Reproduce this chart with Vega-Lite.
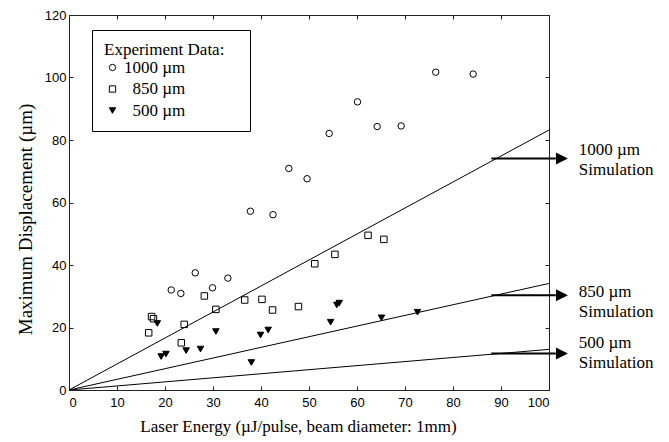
{
  "$schema": "https://vega.github.io/schema/vega-lite/v6.json",
  "width": 480,
  "height": 375,
  "autosize": {"type": "none"},
  "padding": {"left": 69, "top": 15, "right": 120, "bottom": 52},
  "background": "white",
  "config": {
    "view": {"stroke": null},
    "font": "Liberation Serif",
    "axis": {
      "grid": false,
      "domainColor": "#222",
      "domainWidth": 1,
      "tickColor": "#222",
      "tickWidth": 1,
      "labelFont": "Liberation Sans",
      "labelFontSize": 13,
      "labelColor": "black",
      "titleFont": "Liberation Serif",
      "titleFontWeight": "normal",
      "titleColor": "black"
    },
    "legend": {
      "orient": "none", "legendX": 23, "legendY": 15,
      "padding": 12, "strokeColor": "black", "fillColor": "white",
      "titleFont": "Liberation Serif", "titleFontSize": 17, "titleFontWeight": "normal", "titleColor": "black", "titlePadding": 0,
      "labelFont": "Liberation Serif", "labelFontSize": 17, "labelColor": "black",
      "rowPadding": 3.5, "symbolOffset": 0, "labelOffset": 3, "symbolSize": 40,
      "symbolStrokeWidth": 1
    }
  },
  "datasets": {
    "points": [
      {"series": "1000 µm", "energy": 21.3, "disp": 32.0},
      {"series": "1000 µm", "energy": 23.3, "disp": 30.9},
      {"series": "1000 µm", "energy": 26.3, "disp": 37.5},
      {"series": "1000 µm", "energy": 29.9, "disp": 32.7},
      {"series": "1000 µm", "energy": 33.1, "disp": 35.8},
      {"series": "1000 µm", "energy": 37.8, "disp": 57.2},
      {"series": "1000 µm", "energy": 42.5, "disp": 56.1},
      {"series": "1000 µm", "energy": 45.8, "disp": 70.9},
      {"series": "1000 µm", "energy": 49.6, "disp": 67.6},
      {"series": "1000 µm", "energy": 54.2, "disp": 82.1},
      {"series": "1000 µm", "energy": 60.1, "disp": 92.2},
      {"series": "1000 µm", "energy": 64.2, "disp": 84.3},
      {"series": "1000 µm", "energy": 69.2, "disp": 84.5},
      {"series": "1000 µm", "energy": 76.4, "disp": 101.7},
      {"series": "1000 µm", "energy": 84.2, "disp": 101.1},
      {"series": "850 µm", "energy": 17.2, "disp": 23.5},
      {"series": "850 µm", "energy": 17.6, "disp": 22.8},
      {"series": "850 µm", "energy": 16.6, "disp": 18.3},
      {"series": "850 µm", "energy": 23.4, "disp": 15.1},
      {"series": "850 µm", "energy": 24.0, "disp": 21.0},
      {"series": "850 µm", "energy": 28.2, "disp": 30.1},
      {"series": "850 µm", "energy": 30.6, "disp": 25.8},
      {"series": "850 µm", "energy": 36.6, "disp": 28.8},
      {"series": "850 µm", "energy": 40.2, "disp": 29.0},
      {"series": "850 µm", "energy": 42.4, "disp": 25.6},
      {"series": "850 µm", "energy": 47.8, "disp": 26.7},
      {"series": "850 µm", "energy": 51.2, "disp": 40.4},
      {"series": "850 µm", "energy": 55.4, "disp": 43.4},
      {"series": "850 µm", "energy": 62.3, "disp": 49.5},
      {"series": "850 µm", "energy": 65.6, "disp": 48.2},
      {"series": "500 µm", "energy": 18.4, "disp": 21.3},
      {"series": "500 µm", "energy": 19.2, "disp": 10.7},
      {"series": "500 µm", "energy": 20.2, "disp": 11.5},
      {"series": "500 µm", "energy": 24.4, "disp": 12.6},
      {"series": "500 µm", "energy": 27.4, "disp": 13.1},
      {"series": "500 µm", "energy": 30.6, "disp": 18.7},
      {"series": "500 µm", "energy": 38.0, "disp": 8.8},
      {"series": "500 µm", "energy": 39.9, "disp": 17.6},
      {"series": "500 µm", "energy": 41.5, "disp": 19.2},
      {"series": "500 µm", "energy": 54.5, "disp": 21.7},
      {"series": "500 µm", "energy": 55.8, "disp": 27.2},
      {"series": "500 µm", "energy": 56.3, "disp": 27.8},
      {"series": "500 µm", "energy": 65.1, "disp": 23.1},
      {"series": "500 µm", "energy": 72.6, "disp": 24.9}
    ],
    "sim": [
      {"sim": "1000 µm", "e0": 0, "d0": 0, "e1": 100, "d1": 83.2},
      {"sim": "850 µm", "e0": 0, "d0": 0, "e1": 100, "d1": 34.1},
      {"sim": "500 µm", "e0": 0, "d0": 0, "e1": 100, "d1": 13.0}
    ],
    "arrows": [
      {"sim": "1000 µm", "from": 88, "to": 101.4, "tip": 102.7, "level": 74.1, "labelX": 106.2, "labelY": 76.8, "label": "1000 µm|Simulation"},
      {"sim": "850 µm", "from": 88, "to": 101.4, "tip": 102.7, "level": 30.3, "labelX": 106.2, "labelY": 31.5, "label": "850 µm|Simulation"},
      {"sim": "500 µm", "from": 88, "to": 101.4, "tip": 102.7, "level": 11.7, "labelX": 106.2, "labelY": 15.1, "label": "500 µm|Simulation"}
    ]
  },
  "layer": [
    {
      "data": {"name": "sim"},
      "mark": {"type": "rule", "color": "black", "strokeWidth": 1},
      "encoding": {
        "x": {"field": "e0", "type": "quantitative", "scale": {"domain": [0, 100], "nice": false},
          "axis": {"orient": "top", "values": [0,10,20,30,40,50,60,70,80,90,100], "labels": false, "title": null, "tickSize": -4}},
        "x2": {"field": "e1"},
        "y": {"field": "d0", "type": "quantitative", "scale": {"domain": [0, 120], "nice": false},
          "axis": {"orient": "right", "values": [0,20,40,60,80,100,120], "labels": false, "title": null, "tickSize": -4}},
        "y2": {"field": "d1"}
      }
    },
    {
      "data": {"name": "points"},
      "mark": {"type": "point", "filled": false, "strokeWidth": 1, "opacity": 1, "size": 42},
      "encoding": {
        "x": {"field": "energy", "type": "quantitative",
          "axis": {"orient": "bottom", "values": [0,10,20,30,40,50,60,70,80,90,100], "tickSize": -4, "labelPadding": 10,
            "title": "Laser Energy (µJ/pulse, beam diameter: 1mm)", "titleFontSize": 17, "titleX": 229, "titleY": 41, "titleBaseline": "alphabetic"}},
        "y": {"field": "disp", "type": "quantitative",
          "axis": {"orient": "left", "values": [0,20,40,60,80,100,120], "tickSize": -4, "labelPadding": 7,
            "title": "Maximum Displacement (µm)", "titleFontSize": 19, "titleX": -38, "titleY": 204, "titleBaseline": "alphabetic"}},
        "color": {"field": "series", "type": "nominal",
          "scale": {"domain": ["1000 µm", "850 µm", "500 µm"], "range": ["black", "black", "black"]},
          "legend": {
            "title": "Experiment Data:\u00a0\u00a0\u00a0\u200d",
            "labelExpr": "datum.value == '1000 µm' ? datum.label : '\u200d\u00a0\u00a0' + datum.label"
          }},
        "shape": {"field": "series", "type": "nominal",
          "scale": {"domain": ["1000 µm", "850 µm", "500 µm"], "range": ["circle", "square", "triangle-down"]},
          "legend": {
            "title": "Experiment Data:\u00a0\u00a0\u00a0\u200d",
            "labelExpr": "datum.value == '1000 µm' ? datum.label : '\u200d\u00a0\u00a0' + datum.label"
          }},
        "fill": {"field": "series", "type": "nominal",
          "scale": {"domain": ["1000 µm", "850 µm", "500 µm"], "range": ["transparent", "transparent", "black"]},
          "legend": {
            "title": "Experiment Data:\u00a0\u00a0\u00a0\u200d",
            "labelExpr": "datum.value == '1000 µm' ? datum.label : '\u200d\u00a0\u00a0' + datum.label"
          }}
      }
    },
    {
      "data": {"name": "arrows"},
      "mark": {"type": "rule", "color": "black", "strokeWidth": 2},
      "encoding": {
        "x": {"field": "from", "type": "quantitative", "axis": null},
        "x2": {"field": "to"},
        "y": {"field": "level", "type": "quantitative", "axis": null}
      }
    },
    {
      "data": {"name": "arrows"},
      "mark": {"type": "point", "shape": "M-1,-1L1,0L-1,1Z", "filled": true, "color": "black", "size": 144, "opacity": 1},
      "encoding": {
        "x": {"field": "tip", "type": "quantitative", "axis": null},
        "y": {"field": "level", "type": "quantitative", "axis": null}
      }
    },
    {
      "data": {"name": "arrows"},
      "mark": {"type": "text", "align": "left", "baseline": "middle", "font": "Liberation Serif", "fontSize": 17, "lineBreak": "|", "lineHeight": 20, "color": "black"},
      "encoding": {
        "x": {"field": "labelX", "type": "quantitative", "axis": null},
        "y": {"field": "labelY", "type": "quantitative", "axis": null},
        "text": {"field": "label"}
      }
    }
  ],
  "resolve": {"axis": {"x": "independent", "y": "independent"}}
}
